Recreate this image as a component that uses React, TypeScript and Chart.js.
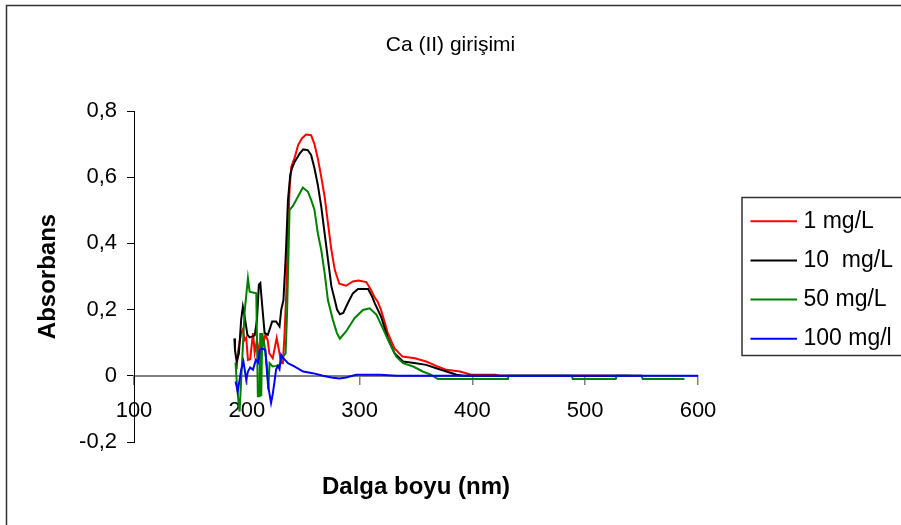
import React, { useEffect, useRef } from 'react';
import { Chart, registerables } from 'chart.js';

Chart.register(...registerables);

const TITLE = 'Ca (II) girişimi';
const X_TITLE = 'Dalga boyu (nm)';
const Y_TITLE = 'Absorbans';
const SERIES_LABELS = ['1 mg/L', '10  mg/L', '50 mg/L', '100 mg/l'];
const SERIES_COLORS = ['#ff0000', '#000000', '#008000', '#0000ff'];
const X_TICKS = [100, 200, 300, 400, 500, 600];
const Y_TICKS = [-0.2, 0, 0.2, 0.4, 0.6, 0.8];

// 1 mg/L
const wl1 = [191, 192, 195, 196.5, 198, 199.5, 201, 203, 205.5, 207, 209, 211.5, 214, 216.5, 218.5, 220, 223, 226.5, 229, 230.5, 232, 233.5, 235, 236.5, 238, 239.5, 242.5, 245.5, 249, 252.5, 257, 260, 263, 266, 269, 272, 275, 278, 282, 288, 294, 299, 306, 310, 313, 316, 319, 325, 331, 338, 349, 359, 368, 377, 389, 399, 420, 425, 550];
const abs1 = [0.02, 0.068, 0.129, 0.14, 0.108, 0.115, 0.048, 0.05, 0.129, 0.07, 0.108, 0.058, 0.088, 0.124, 0.108, 0.068, 0.053, 0.114, 0.068, 0.038, 0.038, 0.129, 0.249, 0.43, 0.571, 0.632, 0.66, 0.697, 0.718, 0.729, 0.727, 0.7, 0.656, 0.601, 0.541, 0.46, 0.38, 0.32, 0.278, 0.272, 0.285, 0.288, 0.283, 0.26, 0.239, 0.224, 0.199, 0.129, 0.083, 0.058, 0.053, 0.043, 0.03, 0.018, 0.013, 0.003, 0.003, 0, 0];

// 10 mg/L
const wl10 = [189, 189.5, 191, 193, 195, 196.5, 198, 199, 200.5, 202.5, 205, 207, 209, 210.7, 212, 213.7, 215.8, 218.7, 222.5, 226, 229, 230.5, 232.5, 234.5, 236.5, 238.5, 240, 242.5, 247, 250, 254, 257, 260, 263, 266, 269, 272, 275, 278, 280, 282.5, 285.5, 289.5, 294, 298.5, 307.5, 311, 313.5, 319, 325, 331, 338.5, 350, 359, 368, 377, 386, 392, 540];
const abs10 = [0.113, 0.078, 0.043, 0.068, 0.169, 0.209, 0.18, 0.159, 0.124, 0.116, 0.119, 0.122, 0.169, 0.275, 0.28, 0.21, 0.129, 0.124, 0.164, 0.164, 0.149, 0.199, 0.229, 0.36, 0.531, 0.606, 0.627, 0.647, 0.672, 0.684, 0.682, 0.667, 0.627, 0.576, 0.511, 0.43, 0.35, 0.27, 0.229, 0.2, 0.186, 0.19, 0.219, 0.249, 0.262, 0.262, 0.24, 0.219, 0.179, 0.114, 0.068, 0.043, 0.038, 0.033, 0.023, 0.013, 0.003, 0, 0];

// 50 mg/L
const wl50 = [190, 191.5, 193.6, 195.5, 198, 201, 202.5, 208.4, 209.8, 211.3, 211.9, 212.8, 213.7, 215.8, 217.8, 219, 220.2, 223, 226, 229, 232, 234.4, 235.6, 236.7, 237.9, 240.9, 245.3, 249.7, 254.2, 257.1, 260, 263, 266, 269, 271.9, 276.3, 279.9, 282.5, 288, 295.5, 303, 309, 315, 320.5, 326.5, 332.5, 338.5, 347.5, 356, 363.5, 369.5, 431.5, 432, 488, 489, 527, 528, 550, 551, 588];
const abs50 = [0.04, -0.04, -0.108, 0.02, 0.19, 0.295, 0.254, 0.249, -0.062, -0.062, 0.129, -0.062, 0.129, 0.09, 0.028, -0.042, 0.038, 0.028, 0.03, 0.033, 0.058, 0.068, 0.179, 0.33, 0.501, 0.513, 0.541, 0.569, 0.556, 0.531, 0.501, 0.43, 0.38, 0.31, 0.229, 0.169, 0.129, 0.112, 0.134, 0.174, 0.199, 0.204, 0.184, 0.144, 0.099, 0.058, 0.038, 0.028, 0.013, 0.003, -0.01, -0.01, 0, 0, -0.01, -0.01, 0, 0, -0.01, -0.01];

// 100 mg/l
const wl100 = [190, 192, 195, 197, 199.5, 201, 203, 205.5, 208, 210, 211.5, 213.5, 216.5, 218, 219.5, 221.5, 223, 224.5, 226, 227.5, 229, 230.5, 232, 236.5, 242.5, 250, 258.5, 267.5, 275, 282, 288, 297, 318, 333, 600];
const abs100 = [-0.017, -0.047, 0.018, 0.043, -0.012, 0.013, 0.025, 0.018, 0.048, 0.04, 0.078, 0.083, 0.078, 0.008, -0.042, -0.082, -0.055, -0.02, 0.02, 0.03, 0.02, 0.063, 0.055, 0.038, 0.028, 0.013, 0.008, 0, -0.005, -0.008, -0.005, 0.003, 0.003, 0, 0];

const SERIES_WL = [wl1, wl10, wl50, wl100];
const SERIES_ABS = [abs1, abs10, abs50, abs100];

const FONT = '"Liberation Sans", Arial, sans-serif';

const framePlugin = {
  id: 'frame',
  beforeDraw(chart: any) {
    const { ctx, width, height } = chart;
    ctx.save();
    ctx.fillStyle = '#ffffff';
    ctx.fillRect(0, 0, width, height);
    ctx.strokeStyle = '#333333';
    ctx.lineWidth = 1.5;
    ctx.beginPath();
    ctx.moveTo(6.5, height + 5);
    ctx.lineTo(6.5, 5.5);
    ctx.lineTo(width + 5, 5.5);
    ctx.stroke();
    ctx.restore();
  },
};

const boxLegendPlugin = {
  id: 'boxLegend',
  afterDraw(chart: any) {
    const { ctx, chartArea } = chart;
    const left = chartArea.right + 44;
    const mid = (chartArea.top + chartArea.bottom) / 2;
    const top = mid - 79;
    const h = 158;
    ctx.save();
    ctx.strokeStyle = '#333333';
    ctx.lineWidth = 1.5;
    ctx.strokeRect(left, top, chart.width - left + 20, h);
    ctx.font = '23px ' + FONT;
    ctx.textBaseline = 'middle';
    ctx.textAlign = 'left';
    chart.data.datasets.forEach((ds: any, i: number) => {
      const y = top + 23.7 + i * 39.2;
      ctx.strokeStyle = ds.borderColor;
      ctx.lineWidth = 2;
      ctx.beginPath();
      ctx.moveTo(left + 8.5, y);
      ctx.lineTo(left + 55, y);
      ctx.stroke();
      ctx.fillStyle = '#000000';
      ctx.fillText(ds.label, left + 61.5, y);
    });
    ctx.restore();
  },
};

const fmt = (v: number) => {
  const r = Math.round(v * 10) / 10;
  return String(r).replace('.', ',');
};

export default function App() {
  const ref = useRef<HTMLCanvasElement | null>(null);
  useEffect(() => {
    if (!ref.current) return;
    const datasets = SERIES_LABELS.map((label, i) => ({
      label,
      data: SERIES_WL[i].map((x, j) => ({ x, y: SERIES_ABS[i][j] })),
      borderColor: SERIES_COLORS[i],
      backgroundColor: SERIES_COLORS[i],
      borderWidth: 2,
      pointRadius: 0,
      tension: 0,
      yAxisID: 'y',
      order: SERIES_LABELS.length - i,
    }));
    const chart = new Chart(ref.current, {
      type: 'line',
      data: { datasets },
      plugins: [framePlugin, boxLegendPlugin],
      options: {
        responsive: false,
        animation: false,
        devicePixelRatio: 1,
        layout: { padding: { left: 0, right: 0, top: 0, bottom: 0 } },
        font: { family: FONT },
        color: '#000',
        plugins: {
          legend: { display: false },
          tooltip: { enabled: false },
          title: {
            display: true,
            text: TITLE,
            color: '#000',
            font: { family: FONT, size: 21, weight: 'normal' },
            padding: { top: 32.4, bottom: 53.4 },
          },
          subtitle: {
            display: true,
            text: X_TITLE,
            position: 'bottom',
            fullSize: false,
            color: '#000',
            font: { family: FONT, size: 24, weight: 'bold' },
            padding: { top: 30.6, bottom: 23.6 },
          },
        },
        scales: {
          x: {
            type: 'linear',
            min: 100,
            max: 600,
            position: { y: 0 },
            afterBuildTicks: (scale: any) => {
              scale.ticks = X_TICKS.map((v) => ({ value: v }));
            },
            grid: { drawOnChartArea: false, drawTicks: true, tickLength: 8, color: '#808080', lineWidth: 1.5 },
            border: { display: true, color: '#808080', width: 2 },
            ticks: { color: '#000', font: { family: FONT, size: 22 }, padding: 14, maxRotation: 0 },
          },
          y: {
            type: 'linear',
            min: -0.2,
            max: 0.8,
            position: 'left',
            afterBuildTicks: (scale: any) => {
              scale.ticks = Y_TICKS.map((v) => ({ value: v }));
            },
            afterFit: (scale: any) => {
              scale.width = 134;
            },
            grid: { drawOnChartArea: false, drawTicks: true, tickLength: 7, color: '#000', lineWidth: 1 },
            border: { display: true, color: '#000', width: 1 },
            ticks: { color: '#000', font: { family: FONT, size: 22 }, padding: 10, callback: (v: any) => fmt(Number(v)) },
            title: {
              display: true,
              text: Y_TITLE,
              color: '#000',
              font: { family: FONT, size: 24, weight: 'bold' },
              padding: { top: 33.9, bottom: 0 },
            },
          },
          legendSpace: {
            type: 'linear',
            position: 'right',
            display: true,
            grid: { display: false, drawTicks: false },
            border: { display: false },
            ticks: { display: false },
            afterFit: (scale: any) => {
              scale.width = 203;
            },
          },
        },
      } as any,
    });
    return () => chart.destroy();
  }, []);
  return (
    <div style={{ position: 'fixed', left: 0, top: 0, width: 901, height: 525, overflow: 'hidden', background: '#fff' }}>
      <canvas ref={ref} width={901} height={525} style={{ display: 'block', width: 901, height: 525 }} />
    </div>
  );
}
